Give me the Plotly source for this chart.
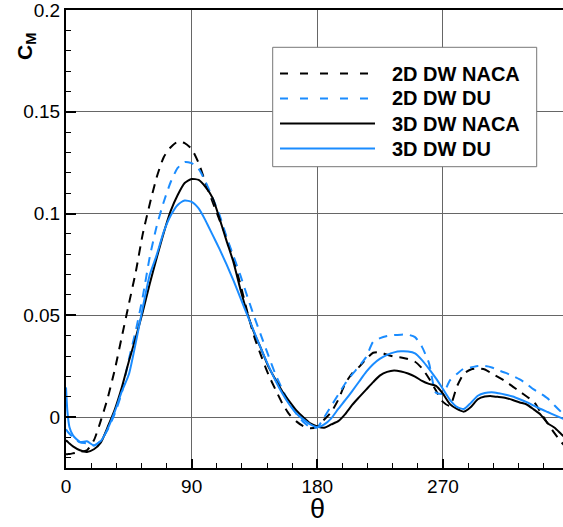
import plotly.graph_objects as go

# ---------------- data ----------------
theta = [0, 1, 2.5, 5, 10, 15, 20, 25, 30, 35, 40, 45, 50, 55, 60, 65, 70, 75, 80, 85,
         90, 95, 100, 105, 110, 115, 120, 125, 130, 135, 140, 145, 150, 155, 160, 165,
         170, 175, 180, 185, 190, 195, 200, 205, 210, 215, 220, 225, 230, 235, 240, 245,
         250, 255, 260, 265, 270, 275, 280, 285, 290, 295, 300, 305, 310, 315, 320, 325,
         330, 335, 340, 345, 350, 355, 360]

cm_2d_naca = [-0.0183, -0.0182, -0.0181, -0.0178, -0.0171, -0.0163, -0.0114, -0.0016, 0.0097,
              0.0235, 0.0395, 0.0555, 0.0714, 0.0900, 0.1047, 0.1179, 0.1277, 0.1326, 0.1353,
              0.1346, 0.1317, 0.1248, 0.1150, 0.1057, 0.0968, 0.0881, 0.0773, 0.0650, 0.0513,
              0.0391, 0.0297, 0.0209, 0.0136, 0.0067, 0.0013, -0.0021, -0.0045, -0.0055, -0.0045,
              -0.0012, 0.0025, 0.0085, 0.0165, 0.0215, 0.0247, 0.0285, 0.0316, 0.0318, 0.0306,
              0.0297, 0.0293, 0.0285, 0.0272, 0.0240, 0.0190, 0.0131, 0.0075, 0.0055, 0.0150,
              0.0214, 0.0234, 0.0239, 0.0234, 0.0214, 0.0195, 0.0175, 0.0150, 0.0126, 0.0101,
              0.0077, 0.0023, -0.0031, -0.0080, -0.0124, -0.0163]

cm_2d_du = [-0.0060, -0.0070, -0.0082, -0.0099, -0.0124, -0.0129, -0.0139, -0.0114, -0.0060,
            0.0018, 0.0121, 0.0283, 0.0425, 0.0592, 0.0787, 0.0939, 0.1057, 0.1155, 0.1224,
            0.1253, 0.1248, 0.1219, 0.1155, 0.1077, 0.0993, 0.0885, 0.0790, 0.0695, 0.0590,
            0.0490, 0.0395, 0.0302, 0.0211, 0.0136, 0.0069, 0.0017, -0.0024, -0.0050, -0.0050,
            0.0000, 0.0055, 0.0110, 0.0165, 0.0210, 0.0250, 0.0295, 0.0370, 0.0388, 0.0398,
            0.0403, 0.0405, 0.0405, 0.0393, 0.0345, 0.0265, 0.0120, 0.0115, 0.0180, 0.0212,
            0.0239, 0.0244, 0.0251, 0.0251, 0.0244, 0.0229, 0.0217, 0.0202, 0.0185, 0.0163,
            0.0136, 0.0116, 0.0092, 0.0057, 0.0023, -0.0011]

cm_3d_naca = [-0.0114, -0.0120, -0.0130, -0.0144, -0.0163, -0.0171, -0.0158, -0.0124, -0.0046,
              0.0038, 0.0146, 0.0273, 0.0391, 0.0518, 0.0655, 0.0783, 0.0905, 0.1013, 0.1091,
              0.1150, 0.1170, 0.1165, 0.1130, 0.1077, 0.0975, 0.0866, 0.0760, 0.0626, 0.0508,
              0.0410, 0.0332, 0.0248, 0.0185, 0.0126, 0.0077, 0.0033, -0.0001, -0.0031, -0.0046,
              -0.0052, -0.0036, -0.0020, 0.0015, 0.0060, 0.0098, 0.0135, 0.0172, 0.0205, 0.0222,
              0.0229, 0.0224, 0.0214, 0.0199, 0.0178, 0.0163, 0.0153, 0.0115, 0.0064, 0.0040,
              0.0027, 0.0050, 0.0088, 0.0101, 0.0103, 0.0099, 0.0094, 0.0084, 0.0072, 0.0062,
              0.0038, 0.0012, -0.0030, -0.0052, -0.0085, -0.0115]

cm_3d_du = [0.0146, 0.0028, -0.0050, -0.0090, -0.0122, -0.0119, -0.0139, -0.0117, -0.0055,
            0.0028, 0.0126, 0.0209, 0.0366, 0.0538, 0.0699, 0.0797, 0.0910, 0.0990, 0.1042,
            0.1064, 0.1057, 0.1025, 0.0965, 0.0895, 0.0825, 0.0750, 0.0670, 0.0585, 0.0498,
            0.0415, 0.0332, 0.0253, 0.0180, 0.0116, 0.0062, 0.0018, -0.0011, -0.0036, -0.0050,
            -0.0036, -0.0006, 0.0040, 0.0083, 0.0128, 0.0175, 0.0222, 0.0260, 0.0287, 0.0306,
            0.0318, 0.0323, 0.0322, 0.0313, 0.0280, 0.0237, 0.0190, 0.0138, 0.0085, 0.0050,
            0.0040, 0.0070, 0.0105, 0.0118, 0.0122, 0.0117, 0.0110, 0.0101, 0.0088, 0.0074,
            0.0057, 0.0040, 0.0025, 0.0010, -0.0005, -0.0020]

series_names = ["2D DW NACA", "2D DW DU", "3D DW NACA", "3D DW DU"]
x_ticks = [0, 90, 180, 270]
y_ticks = [0, 0.05, 0.1, 0.15, 0.2]
y_tick_text = ["0", "0.05", "0.1", "0.15", "0.2"]

# ---------------- styling ----------------
BLACK = "#000000"
BLUE = "#1a8cff"
W, H = 563, 527
ML, MR, MT, MB = 66, 0, 10, 59
PW, PH = W - ML - MR, H - MT - MB


def px_x(p):
    return (p - ML) / PW


def px_y(p):
    return (H - MB - p) / PH


series = [
    (cm_2d_naca, BLACK, "9px,7px", "8px,12px"),
    (cm_2d_du, BLUE, "9px,7px", "8px,12px"),
    (cm_3d_naca, BLACK, "solid", "solid"),
    (cm_3d_du, BLUE, "solid", "solid"),
]

fig = go.Figure()
for (vals, col, dash, _), name in zip(series, series_names):
    fig.add_trace(go.Scatter(
        x=theta, y=vals, mode="lines", name=name,
        line=dict(color=col, width=2, dash=dash, shape="spline", smoothing=0.6),
        showlegend=False,
    ))

tickfont = dict(family="Liberation Sans, Arial, sans-serif", size=19, color="black")

fig.update_layout(
    width=W, height=H,
    margin=dict(l=ML, r=MR, t=MT, b=MB, pad=0, autoexpand=False),
    paper_bgcolor="white", plot_bgcolor="white",
    showlegend=False,
    xaxis=dict(
        range=[0, 356], tickvals=x_ticks, ticktext=[str(v) for v in x_ticks],
        automargin=False,
        ticks="inside", ticklen=9, tickwidth=2, tickcolor="black",
        showline=True, linecolor="black", linewidth=2, mirror=True,
        showgrid=True, gridcolor="#666666", gridwidth=1, zeroline=False,
        tickfont=tickfont, ticklabeloverflow="allow",
        minor=dict(dtick=18, tick0=0, ticks="inside", ticklen=5, tickwidth=1,
                   tickcolor="black", showgrid=False),
    ),
    yaxis=dict(
        range=[-0.025, 0.2], tickvals=y_ticks, ticktext=y_tick_text,
        automargin=False,
        ticks="inside", ticklen=10, tickwidth=2, tickcolor="black",
        showline=True, linecolor="black", linewidth=2, mirror=False,
        showgrid=True, gridcolor="#666666", gridwidth=1, zeroline=False,
        tickfont=tickfont, ticklabeloverflow="allow",
        minor=dict(dtick=0.01, tick0=0, ticks="inside", ticklen=5, tickwidth=1,
                   tickcolor="black", showgrid=False),
    ),
)

# axis titles
fig.add_annotation(
    x=px_x(26), y=px_y(47), xref="paper", yref="paper",
    text="<b>C<sub>M</sub></b>", textangle=-90, showarrow=False,
    font=dict(family="Liberation Sans, Arial, sans-serif", size=21, color="black"),
    xanchor="center", yanchor="middle",
)
fig.add_annotation(
    x=180, y=px_y(509), xref="x", yref="paper",
    text="θ", showarrow=False,
    font=dict(family="Liberation Sans, Arial, sans-serif", size=27, color="black"),
    xanchor="center", yanchor="middle",
)

# legend box drawn manually
fig.add_shape(type="rect", xref="paper", yref="paper",
              x0=px_x(272.7), x1=px_x(536.7), y0=px_y(166.7), y1=px_y(47.3),
              line=dict(color="#777777", width=1), fillcolor="white", layer="above")
rows = [73.5, 98.5, 123.5, 148.5]
for (vals, col, _, ldash), name, ry in zip(series, series_names, rows):
    fig.add_shape(type="line", xref="paper", yref="paper",
                  x0=px_x(280), x1=px_x(375), y0=px_y(ry), y1=px_y(ry),
                  line=dict(color=col, width=2, dash=ldash), layer="above")
    fig.add_annotation(x=px_x(390), y=px_y(ry), xref="paper", yref="paper",
                       text="<b>" + name + "</b>", showarrow=False,
                       xanchor="left", yanchor="middle",
                       font=dict(family="Liberation Sans, Arial, sans-serif", size=20,
                                 color="black"))

fig.write_html("out.html",
               config={"displayModeBar": False},
               post_script="document.body.style.margin='0px';document.body.style.overflow='hidden';")
